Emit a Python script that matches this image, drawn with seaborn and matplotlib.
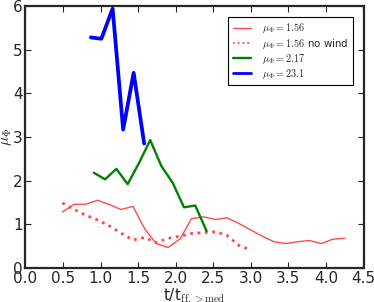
import numpy as np
import pandas as pd
import matplotlib
matplotlib.use("Agg")
import matplotlib.pyplot as plt
import seaborn as sns

# ---- data ----
red_x = [0.49, 0.65, 0.80, 0.96, 1.12, 1.27, 1.43, 1.59, 1.74, 1.90, 2.06, 2.21, 2.37,
         2.53, 2.68, 2.84, 3.00, 3.15, 3.31, 3.47, 3.62, 3.78, 3.94, 4.09, 4.25]
red_y = [1.28, 1.46, 1.46, 1.55, 1.45, 1.34, 1.41, 0.89, 0.56, 0.47, 0.67, 1.13, 1.17,
         1.11, 1.15, 1.02, 0.87, 0.73, 0.60, 0.56, 0.60, 0.63, 0.56, 0.66, 0.68]

nowind_x = [0.49, 0.65, 0.80, 0.96, 1.12, 1.27, 1.43, 1.59, 1.74, 1.90, 2.06, 2.21, 2.37,
            2.53, 2.68, 2.84, 3.00]
nowind_y = [1.49, 1.34, 1.21, 1.10, 0.96, 0.80, 0.64, 0.70, 0.58, 0.68, 0.73, 0.79, 0.81,
            0.83, 0.75, 0.52, 0.41]

green_x = [0.91, 1.06, 1.21, 1.36, 1.51, 1.66, 1.81, 1.96, 2.11, 2.26, 2.41]
green_y = [2.18, 2.03, 2.27, 1.92, 2.40, 2.93, 2.33, 1.95, 1.39, 1.43, 0.85]

blue_x = [0.87, 1.01, 1.16, 1.30, 1.44, 1.58]
blue_y = [5.28, 5.25, 5.94, 3.17, 4.47, 2.85]

labels = [r"$\mu_\Phi=1.56$", r"$\mu_\Phi=1.56$ no wind", r"$\mu_\Phi=2.17$", r"$\mu_\Phi=23.1$"]
x_ticks = [0.0, 0.5, 1.0, 1.5, 2.0, 2.5, 3.0, 3.5, 4.0, 4.5]
y_ticks = [0, 1, 2, 3, 4, 5, 6]

sns.set_style("ticks")
plt.rcParams['font.family'] = ['DejaVu Sans']
plt.rcParams['mathtext.fontset'] = 'cm'

fig = plt.figure(figsize=(3.74, 3.02), dpi=100)
ax = fig.add_axes([25.5/374, 1 - 268/302, (363.5-25.5)/374, (268-6)/302])

red = '#ff4a4a'
sns.lineplot(x=red_x, y=red_y, ax=ax, color=red, lw=1.0, label=labels[0])
sns.lineplot(x=nowind_x, y=nowind_y, ax=ax, color=red, lw=2.0, ls=':', label=labels[1])
sns.lineplot(x=green_x, y=green_y, ax=ax, color='#008000', lw=1.7, label=labels[2])
sns.lineplot(x=blue_x, y=blue_y, ax=ax, color='#0000ff', lw=2.7, label=labels[3])

ax.set_xlim(0, 4.5)
ax.set_ylim(0, 6)
ax.set_xticks(x_ticks)
ax.set_yticks(y_ticks)
ax.tick_params(direction='in', top=True, right=True, labelsize=11, length=4, width=0.8, pad=2)
for s in ax.spines.values():
    s.set_linewidth(1.6)
    s.set_visible(True)

ax.set_xlabel(r"t/t$_{\mathrm{ff,>med}}$", fontsize=11, labelpad=1)
ax.set_ylabel(r"$\mu_\Phi$", fontsize=11, labelpad=-1)

leg = ax.legend(loc='upper right', prop={'size': 7.4}, frameon=True, fancybox=False,
                edgecolor='black', framealpha=1, handlelength=1.8, handletextpad=1.1,
                borderpad=0.4, labelspacing=0.12, bbox_to_anchor=(0.984, 0.977))
leg.get_frame().set_linewidth(0.8)
for h in leg.legend_handles:
    h.set_linewidth(min(h.get_linewidth(), 2.0))
    if h.get_linestyle() == ':':
        h.set_linewidth(1.3)

fig.savefig("out.png", dpi=100)
